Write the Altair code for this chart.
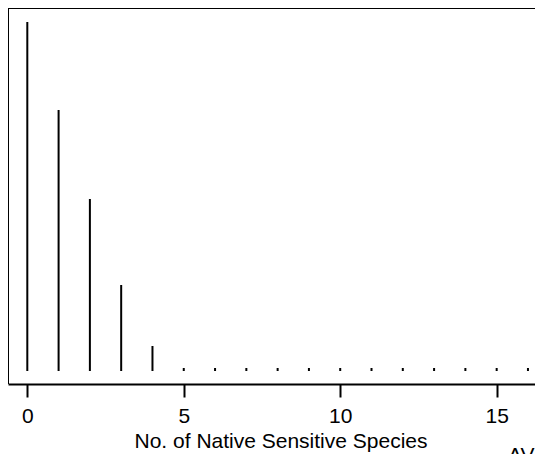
import altair as alt
import pandas as pd

# Data
species_counts = list(range(17))
spike_heights = [349, 261, 172, 86, 25, 3, 3, 3, 3, 3, 3, 3, 3, 3, 3, 3, 3]
tick_values = [0, 5, 10, 15]
x_title = "No. of Native Sensitive Species"
corner_text = "AV"

df = pd.DataFrame({"n": species_counts, "h": spike_heights})

FONT = "Liberation Sans"
W, H = 527, 376

x_scale = alt.Scale(domain=[-0.617, 16.225], nice=False, zero=False)
y_scale = alt.Scale(domain=[-13, 363], nice=False, zero=False)

spikes = alt.Chart(df).mark_rule(color="black", strokeWidth=2).encode(
    x=alt.X(
        "n:Q",
        scale=x_scale,
        axis=alt.Axis(
            values=tick_values,
            title=x_title,
            grid=False,
            domain=True,
            domainColor="black",
            domainWidth=2,
            tickColor="black",
            tickWidth=2,
            tickSize=13,
            labelFont=FONT,
            labelFontSize=21,
            labelColor="black",
            labelPadding=8,
            labelFlush=False,
            titleFont=FONT,
            titleFontSize=21,
            titleFontWeight="normal",
            titleColor="black",
            titleX=272.5,
            titleY=63,
            titleAlign="center",
            titleBaseline="alphabetic",
        ),
    ),
    y=alt.Y("h:Q", scale=y_scale, axis=None),
    y2=alt.datum(0),
)

top_line = alt.Chart(df).mark_rule(color="black", strokeWidth=2).encode(
    x=alt.value(0), x2=alt.value(W), y=alt.value(0)
)
left_line = alt.Chart(df).mark_rule(color="black", strokeWidth=2).encode(
    x=alt.value(0), y=alt.value(0), y2=alt.value(H)
)
corner = alt.Chart(pd.DataFrame({"t": [corner_text]})).mark_text(
    font=FONT, fontSize=21, color="black", align="left", baseline="alphabetic"
).encode(text="t:N", x=alt.value(500), y=alt.value(454))

chart = (
    alt.layer(spikes, top_line, left_line, corner)
    .properties(
        width=W,
        height=H,
        autosize=alt.AutoSizeParams(type="none"),
        padding={"left": 0, "top": 0, "right": 0, "bottom": 70},
    )
    .configure_view(stroke=None)
)

chart.save("out.html", embed_options={"renderer": "svg", "actions": False})
